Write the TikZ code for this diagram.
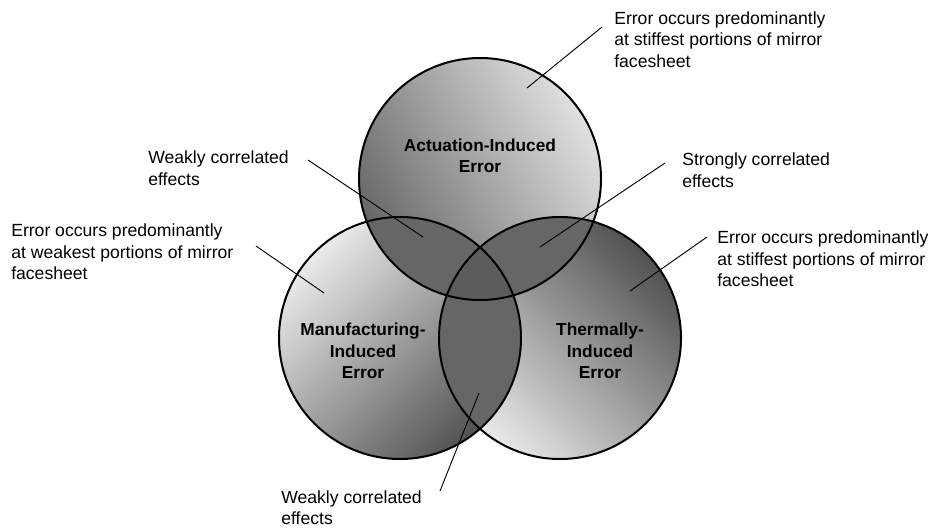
\documentclass[tikz,border=0pt]{standalone}
\usepackage{fontspec}
\setmainfont{Liberation Sans}
\usepackage{tikz}
\usetikzlibrary{positioning}

\begin{document}
\begin{tikzpicture}[
    x=0.75pt, y=-0.75pt,
    note/.style={anchor=west, align=left, inner sep=0pt, font=\fontsize{13.2}{16.1}\selectfont},
    title/.style={align=center, inner sep=0pt, font=\fontsize{13}{16.1}\selectfont\bfseries},
    ring/.style={draw=black, line width=1.5pt},
    link/.style={draw=black, line width=0.7pt},
    lap/.style={fill=black!60}
]
\useasboundingbox (0,0) rectangle (932,529);

\coordinate (act) at (480,179);
\coordinate (man) at (400,338);
\coordinate (the) at (560,338);

% shaded discs
\shade[top color=black!12, bottom color=black!60, shading angle=-60] (act) circle[radius=121];
\shade[top color=black!8, bottom color=black!68, shading angle=45] (man) circle[radius=121];
\shade[top color=black!68, bottom color=black!8, shading angle=-45] (the) circle[radius=121];

% overlaps
\begin{scope}
  \clip (act) circle[radius=121];
  \fill[lap] (man) circle[radius=121];
  \fill[lap] (the) circle[radius=121];
\end{scope}
\begin{scope}
  \clip (man) circle[radius=121];
  \fill[lap] (the) circle[radius=121];
  \clip (the) circle[radius=121];
  \fill[lap, fill=black!64] (act) circle[radius=121];
\end{scope}

\draw[ring] (act) circle[radius=121];
\draw[ring] (man) circle[radius=121];
\draw[ring] (the) circle[radius=121];

% circle titles
\node[title] (actT) at (480,156) {Actuation-Induced\\Error};
\node[title] (manT) at (363,351) {Manufacturing-\\Induced\\Error};
\node[title] (theT) at (600,351) {Thermally-\\Induced\\Error};

% notes
\node[note] (stiffA) at (614,39.5) {Error occurs predominantly\\at stiffest portions of mirror\\facesheet};
\node[note] (weakAM) at (148,168) {Weakly correlated\\effects};
\node[note] (strongAT) at (682,170) {Strongly correlated\\effects};
\node[note] (weakM) at (11,252) {Error occurs predominantly\\at weakest portions of mirror\\facesheet};
\node[note] (stiffT) at (717,259) {Error occurs predominantly\\at stiffest portions of mirror\\facesheet};
\node[note] (weakMT) at (281,507.5) {Weakly correlated\\effects};

% leader lines
\coordinate (stiffAs) at (602,27);   \coordinate (stiffAe) at (527,88);
\coordinate (weakAMs) at (308,160);  \coordinate (weakAMe) at (423,237);
\coordinate (strongATs) at (665,163);\coordinate (strongATe) at (540,247);
\coordinate (weakMs) at (256,246);   \coordinate (weakMe) at (324,293);
\coordinate (stiffTs) at (707,237);  \coordinate (stiffTe) at (630,291);
\coordinate (weakMTs) at (440,491);  \coordinate (weakMTe) at (479,393);

\draw[link] (stiffAs) -- (stiffAe);
\draw[link] (weakAMs) -- (weakAMe);
\draw[link] (strongATs) -- (strongATe);
\draw[link] (weakMs) -- (weakMe);
\draw[link] (stiffTs) -- (stiffTe);
\draw[link] (weakMTs) -- (weakMTe);

\end{tikzpicture}
\end{document}
